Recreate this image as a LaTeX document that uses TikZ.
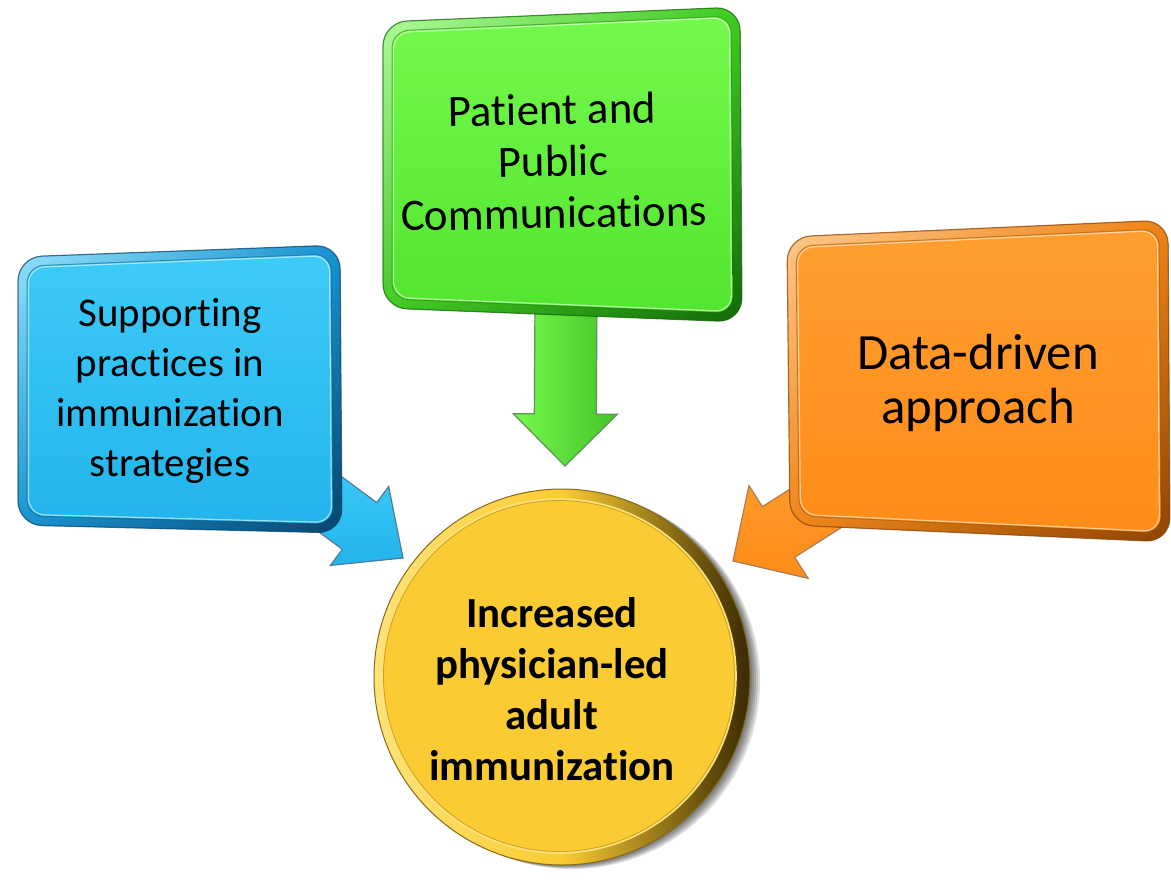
\documentclass[tikz,border=0pt]{standalone}
\usepackage{fontspec}
\setmainfont{Carlito}[Ligatures={NoCommon,NoContextual,NoRare}]
\usetikzlibrary{calc,shadings}

% keep "t" and "i" as separate glyphs
\newcommand\tsep{t\kern0pt i}

% palette
\definecolor{bluetop}{HTML}{3DCBF7}
\definecolor{bluebot}{HTML}{22B4EC}
\definecolor{bluerim}{HTML}{1592D2}
\definecolor{blueedge}{HTML}{07456F}
\definecolor{greentop}{HTML}{74F94C}
\definecolor{greenbot}{HTML}{52E52F}
\definecolor{greenrim}{HTML}{3FCB20}
\definecolor{greenedge}{HTML}{136A08}
\definecolor{orangetop}{HTML}{FF9E30}
\definecolor{orangebot}{HTML}{FF8C18}
\definecolor{orangerim}{HTML}{F08414}
\definecolor{orangeedge}{HTML}{8E4404}
\definecolor{goldface}{HTML}{FACB32}
\definecolor{goldlight}{HTML}{FFE37A}
\definecolor{golddark}{HTML}{3A2A02}

% rounded quadrilateral through the corners <prefix>TL/TR/BR/BL, pulled inwards by an inset
\newcommand\boxshape[3]{%
  \path[#1] ($($(#2TL)!.5!(#2TR)$)+(0,#3)$) -- ($(#2TR)+(-#3,#3)$) -- ($(#2BR)+(-#3,-#3)$)
    -- ($(#2BL)+(#3,-#3)$) -- ($(#2TL)+(#3,#3)$) -- cycle;}

% bevelled box with a soft drop shadow
\newcommand\bevelbox[5]{% prefix, face top, face bottom, rim, edge
  \foreach \s in {2,4,6,8,10,12}{\boxshape{fill=black,opacity=.1,rounded corners=24bp,shift={(\s,\s)}}{#1}{0}}
  \boxshape{upper left=#2!55!white,upper right=#4,lower left=#4,lower right=#5,rounded corners=24bp}{#1}{0}
  \boxshape{draw=#5,opacity=.7,line width=1.2bp,rounded corners=24bp}{#1}{0}
  \boxshape{top color=#2,bottom color=#3,rounded corners=17bp}{#1}{9}
  \boxshape{draw=#5,opacity=.45,line width=1bp,rounded corners=17bp}{#1}{9}
  \boxshape{draw=white,opacity=.55,line width=1.2bp,rounded corners=16bp}{#1}{10.5}}

% block arrow from a base point to a tip: base, tip, head length, shaft half width, head half width, style
\newcommand\blockarrow[6]{%
  \coordinate (#1-neck) at ($(#2)!#3!(#1)$);
  \path[#6] ($(#1)!#4!90:(#2)$) -- ($(#1-neck)!#4!90:(#2)$) -- ($(#1-neck)!#5!90:(#2)$)
    -- (#2) -- ($(#1-neck)!#5!-90:(#2)$) -- ($(#1-neck)!#4!-90:(#2)$) -- ($(#1)!#4!-90:(#2)$) -- cycle;}

\tikzset{
  boxtext/.style={align=center,inner sep=0pt,text=black},
}

\begin{document}
\begin{tikzpicture}[x=1bp,y=-1bp]
\useasboundingbox (0,0) rectangle (1171,882);
\fill[white] (0,0) rectangle (1171,882);

% box corners
\coordinate (bTL) at (18,257);  \coordinate (bTR) at (340,245);
\coordinate (bBR) at (342,533); \coordinate (bBL) at (18,525);
\coordinate (gTL) at (383,22);  \coordinate (gTR) at (740,7);
\coordinate (gBR) at (742,322); \coordinate (gBL) at (383,308);
\coordinate (oTL) at (787,237); \coordinate (oTR) at (1168,220);
\coordinate (oBR) at (1170,542);\coordinate (oBL) at (790,525);

% arrow bases (under the boxes) and tips (at the circle)
\coordinate (bS) at (300,482);  \coordinate (bT) at (403,558);
\coordinate (gS) at (566,300);  \coordinate (gT) at (565,466);
\coordinate (oS) at (871,473);  \coordinate (oT) at (733,561);

% arrow shadows
\foreach \s in {2,4,6}{
  \blockarrow{bS}{bT}{54bp}{29bp}{49bp}{fill=black,opacity=.08,shift={(\s,\s)}}
  \blockarrow{gS}{gT}{52bp}{31bp}{52bp}{fill=black,opacity=.08,shift={(\s,\s)}}
  \blockarrow{oS}{oT}{54bp}{30bp}{55bp}{fill=black,opacity=.08,shift={(\s,\s)}}
}
% arrows
\blockarrow{bS}{bT}{54bp}{29bp}{49bp}{top color=bluetop,bottom color=bluebot,draw=blueedge!70,line width=1.2bp,line join=miter}
\blockarrow{gS}{gT}{52bp}{31bp}{52bp}{left color=greentop,right color=greenbot!85!black,draw=greenedge!70,line width=1.2bp,line join=miter}
\blockarrow{oS}{oT}{54bp}{30bp}{55bp}{top color=orangetop,bottom color=orangebot,draw=orangeedge!70,line width=1.2bp,line join=miter}

% boxes
\bevelbox{b}{bluetop}{bluebot}{bluerim}{blueedge}
\bevelbox{g}{greentop}{greenbot}{greenrim}{greenedge}
\bevelbox{o}{orangetop}{orangebot}{orangerim}{orangeedge}

% central disc
\coordinate (cC) at (562,677);
\foreach \s in {2,4,6,8,10}{\fill[black,opacity=.13] ($(cC)+(\s,\s*0.4)$) circle[radius=188bp];}
\shade[left color=goldlight,right color=golddark,middle color=goldface]
  (cC) circle[radius=188bp];
\draw[golddark!60!goldface,line width=1bp] (cC) circle[radius=188bp];
\fill[goldface] ($(cC)+(-3,-1)$) circle[radius=177bp];
\draw[goldlight,line width=1.6bp] ($(cC)+(-3,-1)$) circle[radius=177bp];
\draw[golddark,opacity=.25,line width=.8bp] ($(cC)+(-3,-1)$) circle[radius=175.5bp];

% labels
\node[boxtext,font=\fontsize{41}{50}\selectfont] (prac) at (170,391)
  {Suppor\tsep ng\\practices in\\immuniza\tsep on\\strategies};
\node[boxtext,font=\fontsize{45}{52}\selectfont,rotate=1] (pub) at (553,161)
  {Pa\tsep ent and\\Public\\Communica\tsep ons};
\node[boxtext,font=\fontsize{51}{55}\selectfont] (data) at (978,383)
  {Data-driven\\approach};
\node[boxtext,font=\fontsize{43}{51}\selectfont\bfseries] (goal) at (552,689)
  {Increased\\physician-led\\adult\\immuniza\tsep on};
\end{tikzpicture}
\end{document}
